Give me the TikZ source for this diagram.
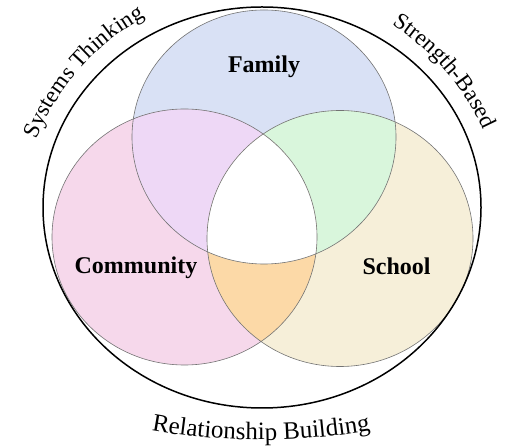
\documentclass[tikz,border=0pt]{standalone}
\usepackage{fontspec}
\setmainfont{Liberation Serif}
\usetikzlibrary{decorations.text}
\definecolor{famc}{HTML}{D9E1F5}
\definecolor{comc}{HTML}{F6D8EB}
\definecolor{schc}{HTML}{F6EFD9}
\definecolor{fcc}{HTML}{EED8F6}
\definecolor{fsc}{HTML}{D9F6DC}
\definecolor{csc}{HTML}{FCD9A7}
\tikzset{
  venn/.style={draw=black!55, line width=0.6pt},
  outerline/.style={draw=black, line width=1.5pt},
  lbl/.style={font=\fontsize{24}{24}\selectfont\bfseries, inner sep=0pt, anchor=base},
  arctext/.style 2 args={decorate, decoration={text along path, text align=center,
    text={|\fontsize{#1}{#1}\selectfont|#2}}}
}
\begin{document}
\begin{tikzpicture}[x=1pt,y=1pt]
\useasboundingbox (0,0) rectangle (518,446);
% base fills
\fill[famc] (264,309) ellipse [x radius=132pt, y radius=127pt];
\fill[comc] (184.5,209) ellipse [x radius=132.5pt, y radius=128pt];
\fill[schc] (340,207.5) ellipse [x radius=133pt, y radius=128pt];
% pairwise overlaps
\begin{scope}
  \clip (264,309) ellipse [x radius=132pt, y radius=127pt];
  \fill[fcc] (184.5,209) ellipse [x radius=132.5pt, y radius=128pt];
  \fill[fsc] (340,207.5) ellipse [x radius=133pt, y radius=128pt];
\end{scope}
\begin{scope}
  \clip (184.5,209) ellipse [x radius=132.5pt, y radius=128pt];
  \fill[csc] (340,207.5) ellipse [x radius=133pt, y radius=128pt];
\end{scope}
% triple overlap
\begin{scope}
  \clip (264,309) ellipse [x radius=132pt, y radius=127pt];
  \clip (184.5,209) ellipse [x radius=132.5pt, y radius=128pt];
  \fill[white] (340,207.5) ellipse [x radius=133pt, y radius=128pt];
\end{scope}
% outlines
\draw[venn] (264,309) ellipse [x radius=132pt, y radius=127pt];
\draw[venn] (184.5,209) ellipse [x radius=132.5pt, y radius=128pt];
\draw[venn] (340,207.5) ellipse [x radius=133pt, y radius=128pt];
\draw[outerline] (262,238.5) ellipse [x radius=219pt, y radius=200.5pt];
% labels
\node[lbl] (family) at (264,373) {Family};
\node[lbl] (community) at (136,172) {Community};
\node[lbl] (school) at (396.5,171) {School};
% curved texts
\path[arctext={23}{Systems Thinking}] (262,216) ++(176:243pt) arc[start angle=176, end angle=101, radius=243pt];
\path[arctext={23}{Strength-Based}] (262,216) ++(78:243pt) arc[start angle=78, end angle=4, radius=243pt];
\path[arctext={25}{Relationship Building}] (261,626) ++(255:620pt) arc[start angle=255, end angle=285, radius=620pt];
\end{tikzpicture}
\end{document}
